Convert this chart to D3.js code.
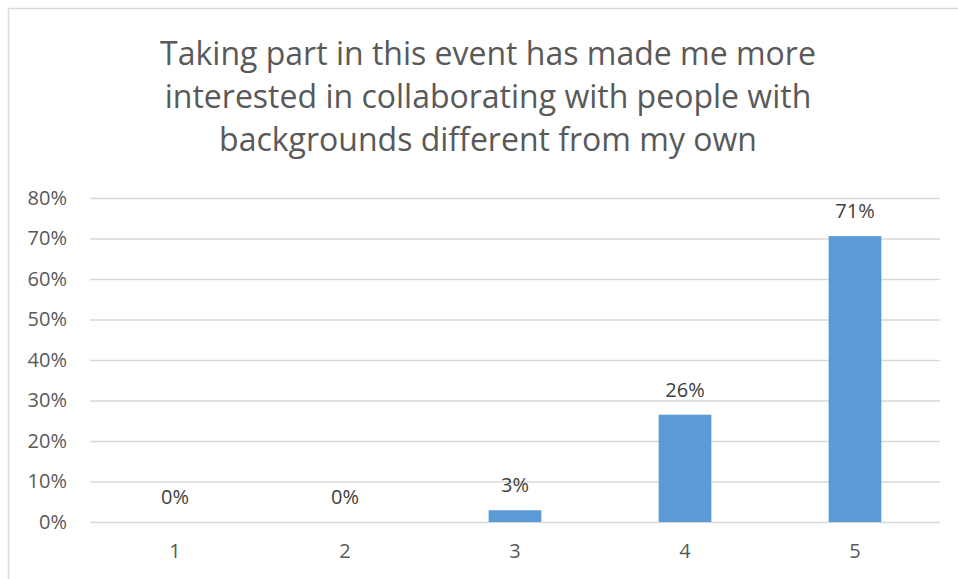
<!DOCTYPE html>
<html>
<head>
<meta charset="utf-8">
<script src="https://cdn.jsdelivr.net/npm/d3@7"></script>
<style>
  html, body { margin: 0; padding: 0; background: #fff; }
  svg { display: block; font-family: 'Open Sans', sans-serif; }
</style>
</head>
<body>
<svg id="chart"></svg>
<script>
const titleLines = [
  'Taking part in this event has made me more',
  'interested in collaborating with people with',
  'backgrounds different from my own'
];
const categories = ['1', '2', '3', '4', '5'];
const values = [0, 0, 0.029, 0.265, 0.706];
const valueLabels = ['0%', '0%', '3%', '26%', '71%'];
const yTicks = [0, 0.1, 0.2, 0.3, 0.4, 0.5, 0.6, 0.7, 0.8];

const width = 958;
const height = 579;
const margin = {top: 198, right: 18, bottom: 57, left: 90};

const svg = d3.select('#chart')
  .attr('width', width)
  .attr('height', height);

// chart frame
svg.append('rect')
  .attr('x', 8.5)
  .attr('y', 8.5)
  .attr('width', 960)
  .attr('height', 600)
  .attr('fill', '#fff')
  .attr('stroke', '#d9d9d9')
  .attr('stroke-width', 1.5);

const title = svg.append('text')
  .attr('text-anchor', 'middle')
  .attr('fill', '#595959')
  .attr('font-size', 32);
title.selectAll('tspan')
  .data(titleLines)
  .enter()
  .append('tspan')
  .attr('x', 488)
  .attr('y', (d, i) => 65 + i * 43)
  .text(d => d);

const x = d3.scaleBand()
  .domain(categories)
  .range([margin.left, width - margin.right])
  .paddingInner(0.69)
  .paddingOuter(0.345);

const y = d3.scaleLinear()
  .domain([0, 0.8])
  .range([height - margin.bottom, margin.top]);

const yAxis = svg.append('g')
  .attr('transform', `translate(${margin.left}, 0)`)
  .call(d3.axisLeft(y)
    .tickValues(yTicks)
    .tickFormat(d3.format('.0%'))
    .tickSize(-(width - margin.left - margin.right))
    .tickPadding(23));
yAxis.select('.domain').remove();
yAxis.selectAll('line')
  .attr('stroke', '#d9d9d9')
  .attr('stroke-width', 1.3);
yAxis.selectAll('text')
  .attr('fill', '#595959')
  .attr('font-size', 20)
  .attr('font-family', 'Open Sans, sans-serif');

const xAxis = svg.append('g')
  .attr('transform', `translate(0, ${height - margin.bottom})`)
  .call(d3.axisBottom(x).tickSize(0).tickPadding(22));
xAxis.select('.domain').remove();
xAxis.selectAll('text')
  .attr('fill', '#595959')
  .attr('font-size', 20)
  .attr('font-family', 'Open Sans, sans-serif');

svg.append('g')
  .selectAll('rect')
  .data(values)
  .enter()
  .append('rect')
  .attr('x', (d, i) => x(categories[i]))
  .attr('y', d => y(d))
  .attr('width', x.bandwidth())
  .attr('height', d => y(0) - y(d))
  .attr('fill', '#5b9bd5');

svg.append('g')
  .selectAll('text')
  .data(values)
  .enter()
  .append('text')
  .attr('x', (d, i) => x(categories[i]) + x.bandwidth() / 2)
  .attr('y', d => y(d) - 18)
  .attr('text-anchor', 'middle')
  .attr('fill', '#404040')
  .attr('font-size', 20)
  .text((d, i) => valueLabels[i]);
</script>
</body>
</html>
